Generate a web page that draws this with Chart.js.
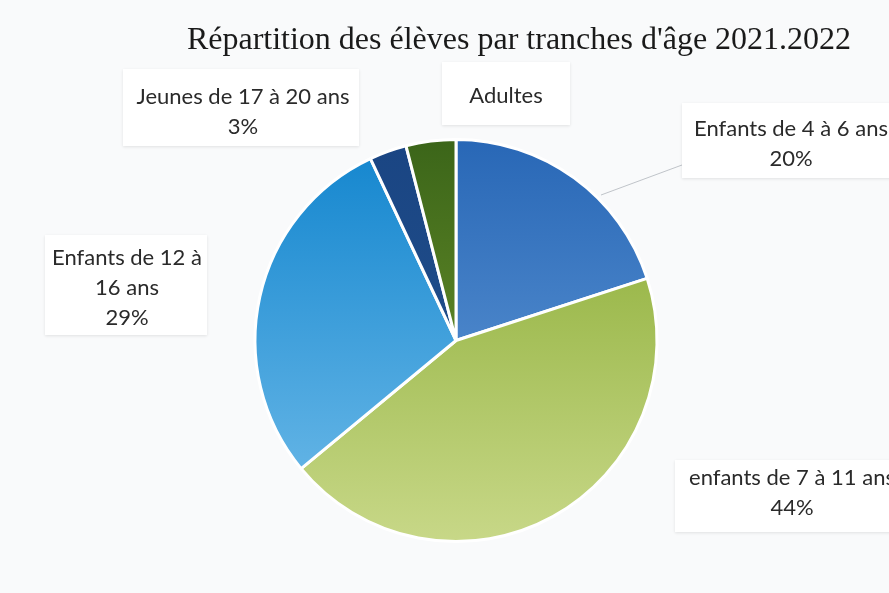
<!DOCTYPE html>
<html>
<head>
<meta charset="utf-8">
<script src="https://cdn.jsdelivr.net/npm/chart.js@4.4.1/dist/chart.umd.min.js"></script>
<style>
  html, body { margin: 0; padding: 0; background: #f9fafb; }
  #wrap { width: 889px; height: 593px; position: relative; }
</style>
</head>
<body>
<div id="wrap"><canvas id="c" width="889" height="593"></canvas></div>
<script>
const chartTitle = "Répartition des élèves par tranches d'âge 2021.2022";
const categories = ["Enfants de 4 à 6 ans", "enfants de 7 à 11 ans", "Enfants de 12 à 16 ans", "Jeunes de 17 à 20 ans", "Adultes"];
const values = [20, 44, 29, 3, 4];
const showPercent = [true, true, true, true, false];

// layout-only: label box centres & wrapping (as in the reference)
const labelLayout = [
  { lines: ["Enfants de 4 à 6 ans"], cx: 791, cy: 129, box: [682, 103, 230, 75], leader: [[682, 165], [601, 195]] },
  { lines: ["enfants de 7 à 11 ans"], cx: 792, cy: 478, box: [675, 460, 230, 72] },
  { lines: ["Enfants de 12 à", "16 ans"], cx: 127, cy: 258, box: [45, 235, 162, 100] },
  { lines: ["Jeunes de 17 à 20 ans"], cx: 243, cy: 97, box: [123, 69, 236, 77] },
  { lines: ["Adultes"], cx: 506, cy: 96, box: [442, 62, 128, 63] }
];
const gradStops = [
  ["#2867b6", "#6aa1dc"],
  ["#84a82c", "#c8d888"],
  ["#1285ce", "#72bdea"],
  ["#1a4583", "#24548f"],
  ["#3b6519", "#7aa031"]
];

function sliceGradient(ctx) {
  const chart = ctx.chart;
  const area = chart.chartArea;
  if (!area) return gradStops[ctx.dataIndex][0];
  const g = chart.ctx.createLinearGradient(0, area.top, 0, area.bottom);
  g.addColorStop(0, gradStops[ctx.dataIndex][0]);
  g.addColorStop(1, gradStops[ctx.dataIndex][1]);
  return g;
}

const labelPlugin = {
  id: 'boxLabels',
  afterDraw(chart) {
    const c = chart.ctx;
    c.save();
    // title
    c.fillStyle = '#1a1a1a';
    c.font = '32px "Liberation Serif", serif';
    c.textAlign = 'center';
    c.textBaseline = 'alphabetic';
    c.fillText(chartTitle, 519, 49);

    labelLayout.forEach((L, i) => {
      const [bx, by, bw, bh] = L.box;
      if (L.leader) {
        c.strokeStyle = 'rgba(185,190,195,0.9)';
        c.lineWidth = 1;
        c.beginPath();
        c.moveTo(L.leader[0][0], L.leader[0][1]);
        c.lineTo(L.leader[1][0], L.leader[1][1]);
        c.stroke();
      }
      c.shadowColor = 'rgba(0,0,0,0.10)';
      c.shadowBlur = 3;
      c.shadowOffsetY = 1;
      c.fillStyle = '#ffffff';
      c.fillRect(bx, by, bw, bh);
      c.shadowColor = 'transparent';
      const lines = L.lines.slice();
      if (showPercent[i]) lines.push(values[i] + '%');
      c.fillStyle = '#2a2a2a';
      c.font = '22px Lato, "Open Sans", sans-serif';
      c.textAlign = 'center';
      c.textBaseline = 'middle';
      lines.forEach((t, k) => c.fillText(t, L.cx, L.cy + k * 30));
    });
    c.restore();
  }
};

new Chart(document.getElementById('c'), {
  type: 'pie',
  data: {
    labels: categories,
    datasets: [{
      data: values,
      backgroundColor: sliceGradient,
      borderColor: '#ffffff',
      borderWidth: 3
    }]
  },
  options: {
    responsive: false,
    animation: false,
    layout: { padding: { top: 138, bottom: 50, left: 52, right: 29 } },
    plugins: {
      legend: { display: false },
      tooltip: { enabled: false },
      title: { display: false }
    }
  },
  plugins: [labelPlugin]
});
</script>
</body>
</html>
